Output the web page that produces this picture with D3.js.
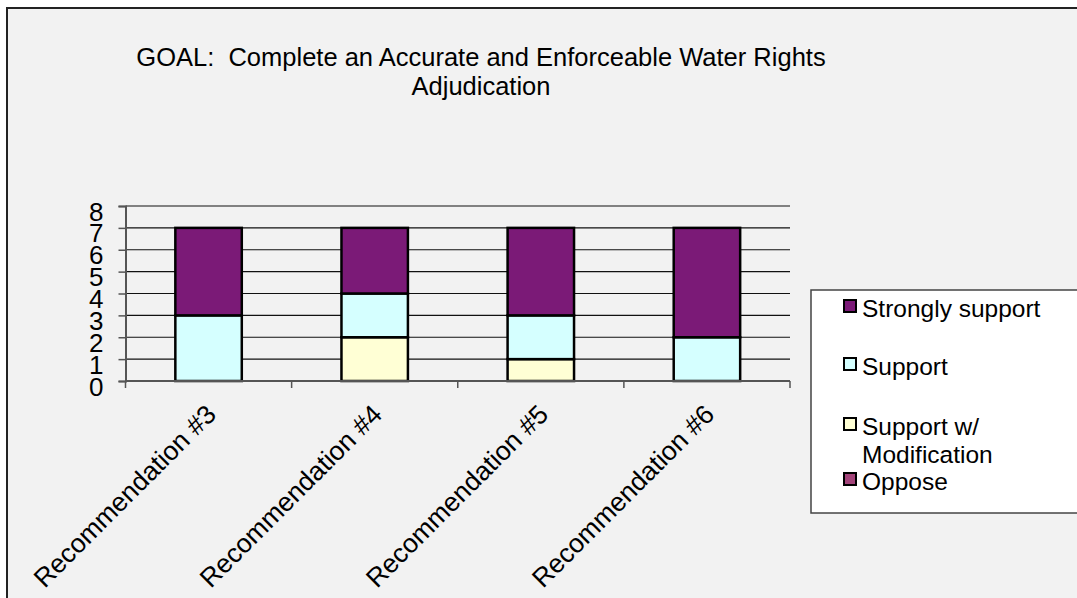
<!DOCTYPE html>
<html>
<head>
<meta charset="utf-8">
<script src="https://cdn.jsdelivr.net/npm/d3@7"></script>
<style>
  html, body { margin: 0; padding: 0; background: #ffffff; }
  svg { display: block; }
  text { font-family: "Liberation Sans", Arial, sans-serif; fill: #000; white-space: pre; }
</style>
</head>
<body>
<svg id="chart" width="1077" height="598"></svg>
<script>
// ---- data ----
const categories = ["Recommendation #3", "Recommendation #4", "Recommendation #5", "Recommendation #6"];
const seriesNames = ["Strongly support", "Support", "Support w/ Modification", "Oppose"];
const stronglySupport = [4, 3, 4, 5];
const support = [3, 2, 2, 2];
const supportWithMod = [0, 2, 1, 0];
const oppose = [0, 0, 0, 0];
const yTicks = [0, 1, 2, 3, 4, 5, 6, 7, 8];
const titleLines = ["GOAL:  Complete an Accurate and Enforceable Water Rights", "Adjudication"];
const legendLines = [["Strongly support"], ["Support"], ["Support w/", "Modification"], ["Oppose"]];

const colors = {
  "Strongly support": "#7b1a77",
  "Support": "#d5ffff",
  "Support w/ Modification": "#ffffd5",
  "Oppose": "#a3447a"
};

// ---- build table ----
const table = categories.map((c, i) => ({
  category: c,
  "Oppose": oppose[i],
  "Support w/ Modification": supportWithMod[i],
  "Support": support[i],
  "Strongly support": stronglySupport[i]
}));
// stack order bottom -> top
const stackKeys = ["Oppose", "Support w/ Modification", "Support", "Strongly support"];
const stacked = d3.stack().keys(stackKeys)(table);

const svg = d3.select("#chart");

// frame
svg.append("rect")
  .attr("x", 7).attr("y", 8).attr("width", 1100).attr("height", 620)
  .attr("fill", "#f2f2f2").attr("stroke", "#222").attr("stroke-width", 2);

// scales
const x = d3.scaleBand().domain(categories).range([125.5, 790]).paddingInner(0.6).paddingOuter(0.3);
const y = d3.scaleLinear().domain([0, 8]).range([381, 206]);

// gridlines
svg.append("g").selectAll("line").data(yTicks.filter(t => t > 0)).join("line")
  .attr("x1", 125.5).attr("x2", 790)
  .attr("y1", d => y(d)).attr("y2", d => y(d))
  .attr("stroke", "#111").attr("stroke-width", 1.2);

// bars
svg.append("g").selectAll("g").data(stacked).join("g")
  .attr("fill", d => colors[d.key])
  .selectAll("rect").data(d => d.filter(s => s[1] - s[0] > 0)).join("rect")
  .attr("x", d => x(d.data.category))
  .attr("width", x.bandwidth())
  .attr("y", d => y(d[1]))
  .attr("height", d => y(d[0]) - y(d[1]))
  .attr("stroke", "#000").attr("stroke-width", 2.5);

// y axis
const yAxis = d3.axisLeft(y).tickValues(yTicks).tickSize(7).tickPadding(0).tickFormat(d3.format("d"));
const gy = svg.append("g").attr("transform", "translate(125.5,0)").call(yAxis);
gy.select(".domain").attr("stroke", "#555").attr("stroke-width", 2);
gy.selectAll(".tick line").attr("stroke", "#555").attr("stroke-width", 1.5);
gy.selectAll(".tick text")
  .attr("x", -22).attr("dy", null).attr("y", 14)
  .style("font-size", "26px").style("font-family", "'Liberation Sans', Arial, sans-serif")
  .attr("fill", "#000").attr("text-anchor", "end");

// x axis baseline and boundary ticks
const step = x.step();
const x0 = 125.5;
svg.append("line").attr("x1", x0).attr("x2", 790).attr("y1", y(0)).attr("y2", y(0))
  .attr("stroke", "#555").attr("stroke-width", 2);
svg.append("g").selectAll("line").data(d3.range(categories.length + 1)).join("line")
  .attr("x1", i => x0 + i * step).attr("x2", i => x0 + i * step)
  .attr("y1", y(0)).attr("y2", y(0) + 7)
  .attr("stroke", "#555").attr("stroke-width", 1.5);

// x labels rotated
svg.append("g").selectAll("text").data(categories).join("text")
  .attr("transform", d => `translate(${x(d) + x.bandwidth() / 2 + 9},${y(0) + 35}) rotate(-45)`)
  .attr("text-anchor", "end")
  .style("font-size", "26.5px")
  .text(d => d);

// title
svg.append("g").selectAll("text").data(titleLines).join("text")
  .attr("x", 481).attr("y", (d, i) => 66 + i * 29)
  .attr("text-anchor", "middle")
  .style("font-size", "25.5px")
  .text(d => d);

// legend
svg.append("rect").attr("x", 811).attr("y", 290).attr("width", 300).attr("height", 223)
  .attr("fill", "#ffffff").attr("stroke", "#444").attr("stroke-width", 1.5);
const legendBase = [317, 375, 435, 490];
const lg = svg.append("g").selectAll("g").data(seriesNames).join("g");
lg.append("rect")
  .attr("x", 844).attr("y", (d, i) => legendBase[i] - 17)
  .attr("width", 12).attr("height", 12)
  .attr("fill", d => colors[d]).attr("stroke", "#000").attr("stroke-width", 2);
lg.append("text")
  .attr("x", 862).attr("y", (d, i) => legendBase[i])
  .style("font-size", "24.5px")
  .selectAll("tspan").data((d, i) => legendLines[i]).join("tspan")
  .attr("x", 862).attr("dy", (d, j) => j === 0 ? 0 : 28)
  .text(d => d);
</script>
</body>
</html>
